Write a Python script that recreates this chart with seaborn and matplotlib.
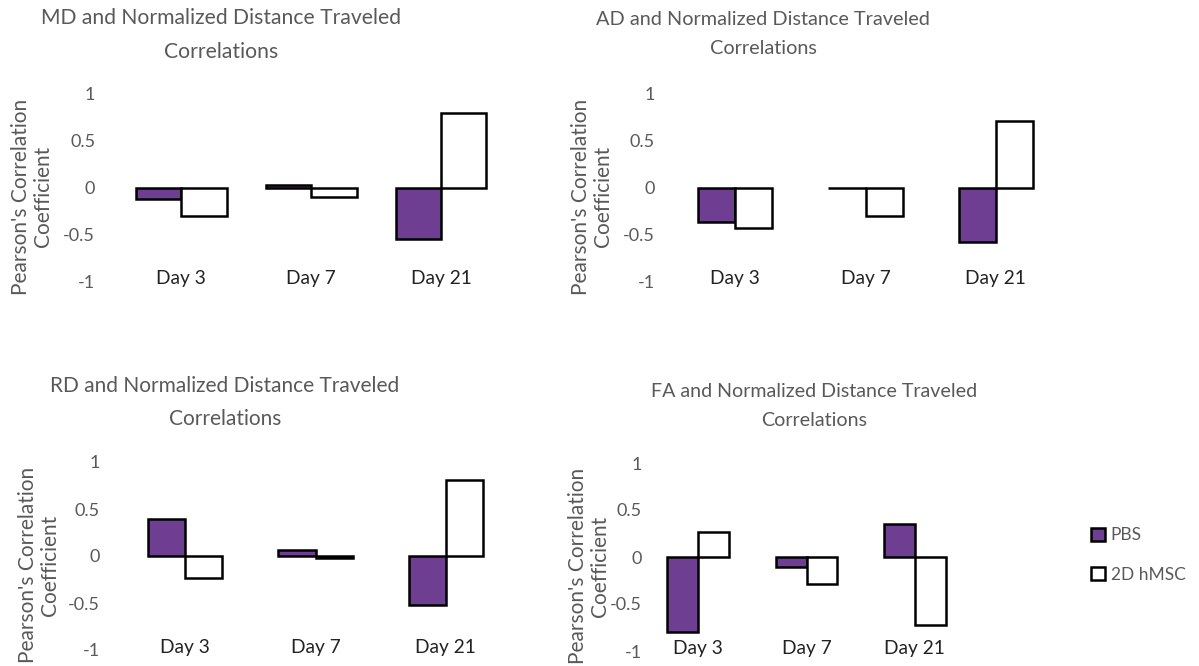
import pandas as pd
import matplotlib.pyplot as plt
import seaborn as sns

days = ["Day 3", "Day 7", "Day 21"]
groups = ["PBS", "2D hMSC"]

md_pbs = [-0.12, 0.03, -0.55]
md_hmsc = [-0.30, -0.10, 0.80]
ad_pbs = [-0.37, -0.01, -0.58]
ad_hmsc = [-0.43, -0.31, 0.71]
rd_pbs = [0.39, 0.06, -0.52]
rd_hmsc = [-0.23, -0.02, 0.81]
fa_pbs = [-0.80, -0.11, 0.35]
fa_hmsc = [0.27, -0.29, -0.72]

titles = ["MD", "AD", "RD", "FA"]
panels = [(md_pbs, md_hmsc), (ad_pbs, ad_hmsc), (rd_pbs, rd_hmsc), (fa_pbs, fa_hmsc)]

sns.set_theme(style="white")
plt.rcParams["font.family"] = ["Lato", "DejaVu Sans"]
grey = "#595959"
palette = {"PBS": "#7030A0", "2D hMSC": "white"}

W, H = 1199, 666
fig = plt.figure(figsize=(W / 100, H / 100), dpi=100)

# axes boxes in pixels: left, top, right, bottom
boxes = [(116, 94, 506, 281), (670, 94, 1061, 281),
         (120, 462, 511, 650), (644, 463, 969, 651)]
title_pos = [(221, 35), (763, 34), (225, 402.5), (814, 406)]
title_size = [15.2, 14.3, 15.0, 14.1]
title_gap = [1.9, 1.85, 1.8, 1.85]
ylabel_x = [53, 613, 60, 610]
ytick_pad = [15, 11, 14.5, 1.5]
widths = [0.7, 0.57, 0.57, 0.57]

for i, (pbs, hmsc) in enumerate(panels):
    l, t, r, b = boxes[i]
    ax = fig.add_axes([l / W, 1 - b / H, (r - l) / W, (b - t) / H])
    df = pd.DataFrame({
        "day": days * 2,
        "group": [groups[0]] * 3 + [groups[1]] * 3,
        "r": pbs + hmsc,
    })
    sns.barplot(data=df, x="day", y="r", hue="group", palette=palette,
                width=widths[i], edgecolor="black", linewidth=1.8,
                legend=(i == 3), ax=ax)
    ax.set_ylim(-1, 1)
    ax.set_xlim(-0.5, 2.5)
    ax.set_yticks([-1, -0.5, 0, 0.5, 1])
    ax.set_yticklabels(["-1", "-0.5", "0", "0.5", "1"])
    ax.tick_params(axis="y", length=0, pad=ytick_pad[i], labelsize=13, labelcolor=grey)
    ax.tick_params(axis="x", length=0, pad=-8, labelsize=13.8, labelcolor="#222222")
    ax.set_xlabel("")
    ax.set_ylabel("Pearson's Correlation\nCoefficient", fontsize=15,
                  color=grey, linespacing=1.15)
    ax.yaxis.set_label_coords((ylabel_x[i] - l) / (r - l), 0.45)
    sns.despine(ax=ax, left=True, bottom=True)
    tx, ty = title_pos[i]
    fig.text(tx / W, 1 - ty / H,
             f"{titles[i]} and Normalized Distance Traveled\nCorrelations",
             ha="center", va="center", fontsize=title_size[i], color=grey,
             linespacing=title_gap[i])
    if i == 3:
        sns.move_legend(ax, "center left", bbox_to_anchor=((1075 - l) / (r - l), 0.51),
                        frameon=False, title=None, fontsize=12.5, handlelength=0.8,
                        handleheight=0.8, handletextpad=0.35, labelspacing=1.35)
        for txt in ax.get_legend().get_texts():
            txt.set_color(grey)

fig.savefig("out.png", dpi=100)
